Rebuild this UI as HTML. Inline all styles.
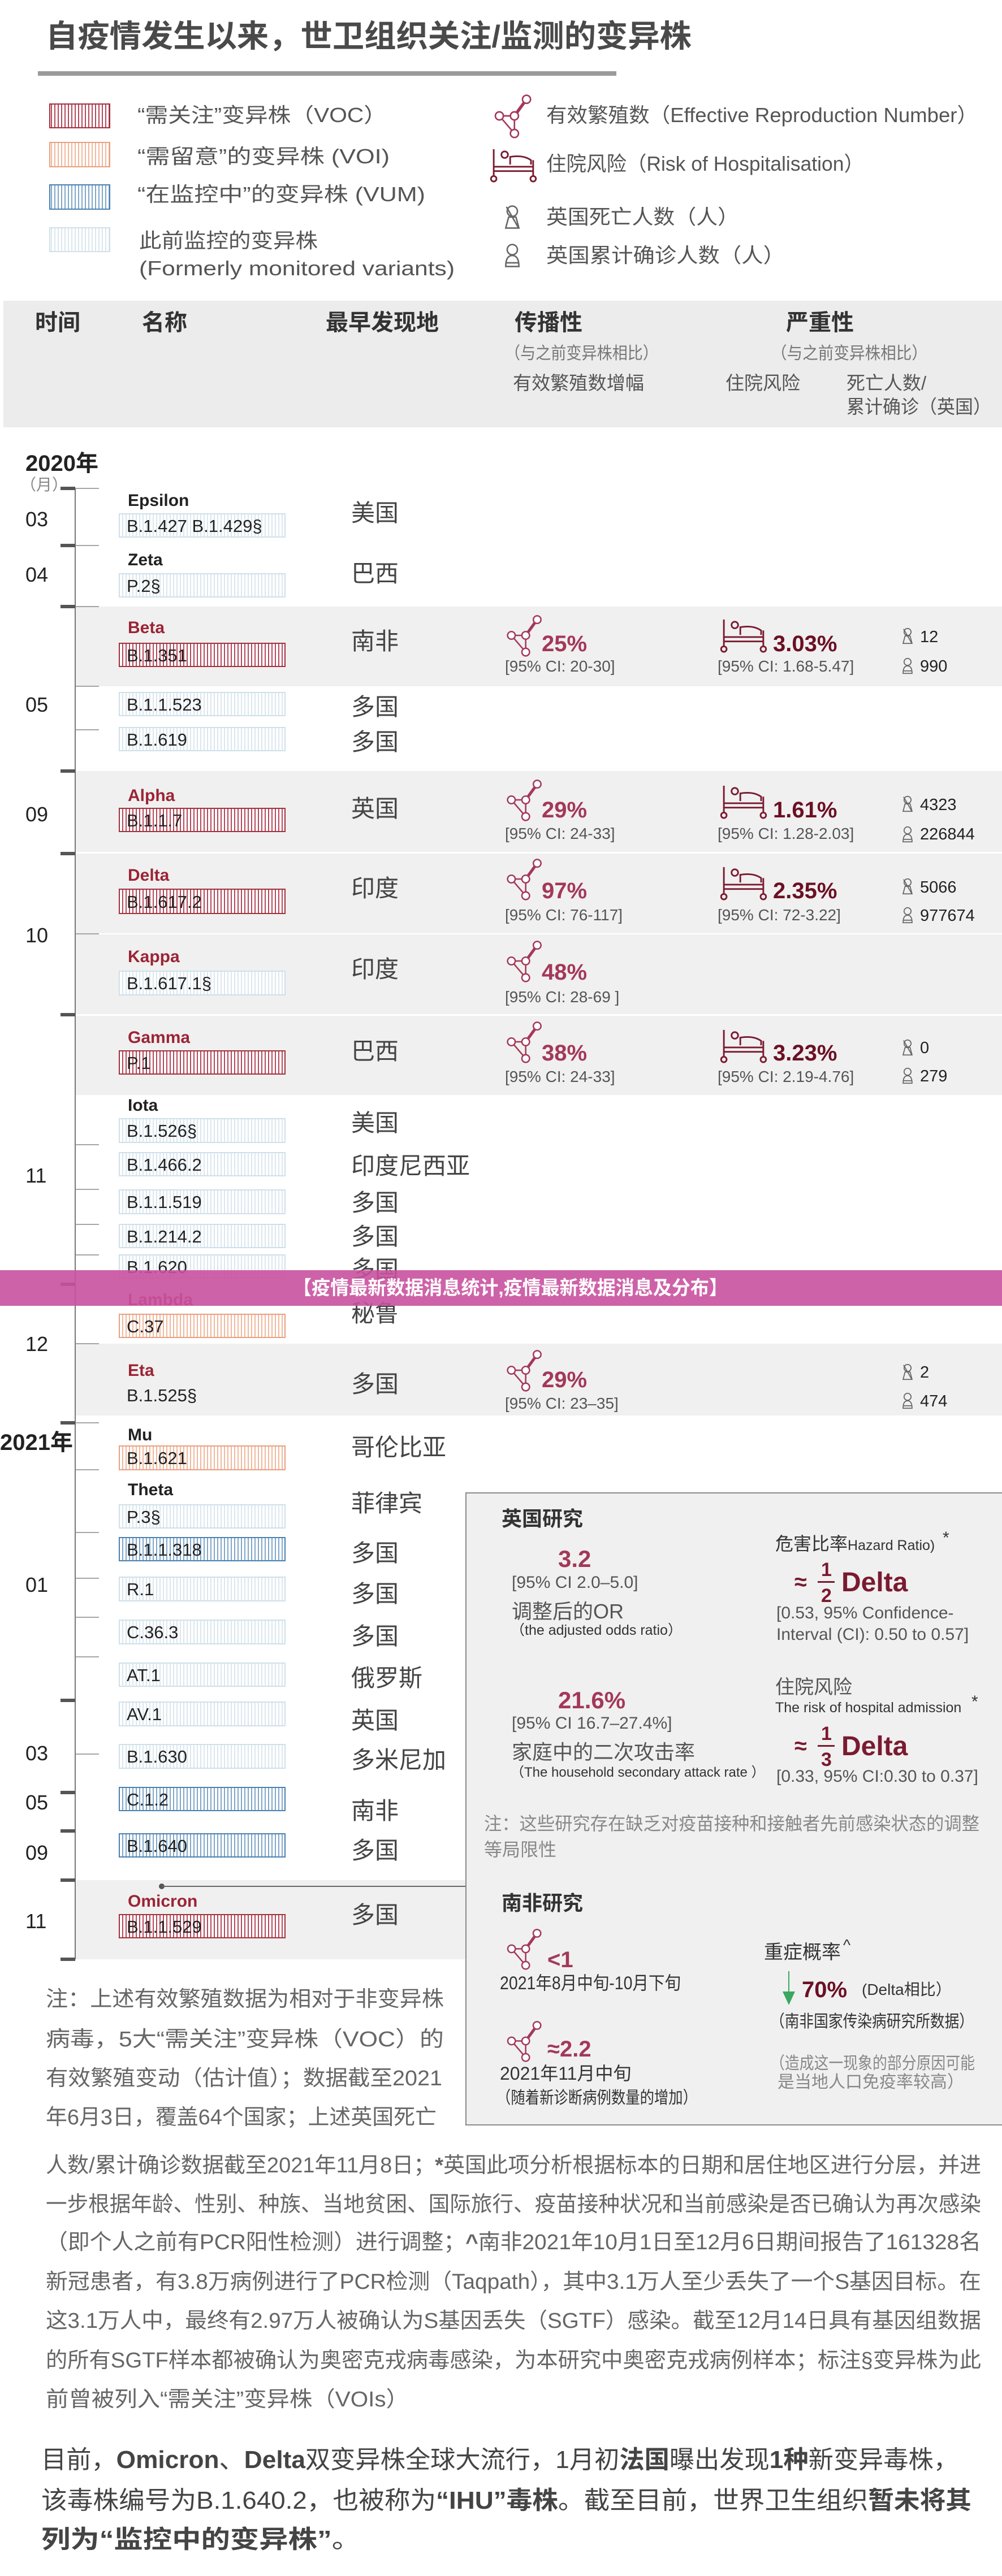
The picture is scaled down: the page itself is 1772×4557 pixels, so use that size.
<!DOCTYPE html>
<html><head><meta charset="utf-8"><style>
html,body{margin:0;padding:0;background:#fff;}
svg{display:block;}
text{font-family:"Liberation Sans","Noto Sans CJK SC",sans-serif;}
.b{font-weight:bold;}
</style></head><body>
<svg width="1772" height="4557" viewBox="0 0 1772 4557" xmlns="http://www.w3.org/2000/svg">
<defs>
<pattern id="pVOC" width="6" height="10" patternUnits="userSpaceOnUse"><rect width="6" height="10" fill="#fff"/><rect x="0" width="2" height="10" fill="#b4485a"/></pattern>
<pattern id="pVOI" width="6" height="10" patternUnits="userSpaceOnUse"><rect width="6" height="10" fill="#fff"/><rect x="0" width="2" height="10" fill="#f0b89c"/></pattern>
<pattern id="pVUM" width="6" height="10" patternUnits="userSpaceOnUse"><rect width="6" height="10" fill="#fff"/><rect x="0" width="2" height="10" fill="#7fa7c9"/></pattern>
<pattern id="pFM" width="6" height="10" patternUnits="userSpaceOnUse"><rect width="6" height="10" fill="#fff"/><rect x="0" width="2" height="10" fill="#dbe7ee"/></pattern>
<symbol id="ri" viewBox="0 0 80 90"><g fill="none" stroke="#a3385a" stroke-width="3"><line x1="42" y1="45" x2="66" y2="12" stroke-width="6"/><line x1="12" y1="45" x2="42" y2="45"/><line x1="12" y1="45" x2="42" y2="80"/><line x1="42" y1="45" x2="42" y2="80"/><circle cx="66" cy="12" r="8" fill="#fff"/><circle cx="12" cy="45" r="8" fill="#fff"/><circle cx="42" cy="45" r="8" fill="#fff"/><circle cx="42" cy="80" r="8" fill="#fff"/></g></symbol>
<symbol id="hi" viewBox="0 0 84 64"><g fill="none" stroke="#7a1a30" stroke-width="3"><line x1="6" y1="2" x2="6" y2="52"/><line x1="78" y1="22" x2="78" y2="52"/><line x1="6" y1="34" x2="78" y2="34"/><line x1="6" y1="42" x2="78" y2="42"/><circle cx="26" cy="12" r="6"/><path d="M36 30 L36 16 Q60 12 74 22 L74 30"/><circle cx="6" cy="56" r="5"/><circle cx="78" cy="56" r="5"/></g></symbol>
<symbol id="di" viewBox="0 0 24 34"><g fill="none" stroke="#666" stroke-width="2"><circle cx="12" cy="9" r="7"/><path d="M3 32 L7 17 L17 17 L21 32 Z"/><line x1="4" y1="3" x2="20" y2="31"/></g></symbol>
<symbol id="ci" viewBox="0 0 24 34"><g fill="none" stroke="#666" stroke-width="2"><circle cx="12" cy="9" r="7"/><path d="M3 32 Q3 17 12 17 Q21 17 21 32 Z"/><line x1="3" y1="27" x2="21" y2="27"/></g></symbol>
</defs>

<!-- Title -->
<text x="81" y="83" font-size="55" class="b" fill="#4a4a4a" textLength="1142" lengthAdjust="spacingAndGlyphs">自疫情发生以来，世卫组织关注/监测的变异株</text>
<rect x="67" y="126" width="1023" height="8" fill="#9a9a9a"/>

<!-- Legend -->
<rect x="88" y="184" width="106" height="42" fill="url(#pVOC)" stroke="#a0303c" stroke-width="2"/>
<rect x="88" y="252" width="106" height="43" fill="url(#pVOI)" stroke="#e8a080" stroke-width="2"/>
<rect x="88" y="327" width="106" height="43" fill="url(#pVUM)" stroke="#4a80b0" stroke-width="2"/>
<rect x="88" y="403" width="106" height="42" fill="url(#pFM)" stroke="#d0e0ea" stroke-width="2"/>
<g font-size="36" fill="#555">
<text x="243" y="216" textLength="441" lengthAdjust="spacingAndGlyphs">“需关注”变异株（VOC）</text>
<text x="243" y="289" textLength="446" lengthAdjust="spacingAndGlyphs">“需留意”的变异株 (VOI)</text>
<text x="243" y="356" textLength="509" lengthAdjust="spacingAndGlyphs">“在监控中”的变异株 (VUM)</text>
<text x="246" y="438" textLength="316" lengthAdjust="spacingAndGlyphs">此前监控的变异株</text>
<text x="246" y="487" textLength="558" lengthAdjust="spacingAndGlyphs">(Formerly monitored variants)</text>
<text x="966" y="216" textLength="763" lengthAdjust="spacingAndGlyphs">有效繁殖数（Effective Reproduction Number）</text>
<text x="966" y="302" textLength="562" lengthAdjust="spacingAndGlyphs">住院风险（Risk of Hospitalisation）</text>
<text x="966" y="396" textLength="341" lengthAdjust="spacingAndGlyphs">英国死亡人数（人）</text>
<text x="966" y="464" textLength="422" lengthAdjust="spacingAndGlyphs">英国累计确诊人数（人）</text>
</g>
<use href="#ri" x="868" y="165" width="80" height="80"/>
<use href="#hi" x="863" y="262" width="90" height="62"/>
<use href="#di" x="888" y="362" width="36" height="44"/>
<use href="#ci" x="888" y="430" width="36" height="44"/>

<!-- Header band -->
<rect x="6" y="532" width="1766" height="224" fill="#ececec"/>
<g font-size="40" class="b" fill="#333">
<text x="62" y="584">时间</text>
<text x="251" y="584">名称</text>
<text x="576" y="584">最早发现地</text>
<text x="910" y="584">传播性</text>
<text x="1390" y="584">严重性</text>
</g>
<g font-size="30" fill="#777">
<text x="893" y="635" textLength="271" lengthAdjust="spacingAndGlyphs">（与之前变异株相比）</text>
<text x="1364" y="635" textLength="276" lengthAdjust="spacingAndGlyphs">（与之前变异株相比）</text>
</g>
<g font-size="33" fill="#555">
<text x="907" y="689" textLength="232" lengthAdjust="spacingAndGlyphs">有效繁殖数增幅</text>
<text x="1283" y="689">住院风险</text>
<text x="1497" y="689">死亡人数/</text>
<text x="1497" y="731" textLength="256" lengthAdjust="spacingAndGlyphs">累计确诊（英国）</text>
</g>

<!-- Bands -->
<g fill="#f0f0f0">
<rect x="133" y="1073" width="1639" height="141"/>
<rect x="133" y="1364" width="1639" height="143"/>
<rect x="133" y="1510" width="1639" height="141"/>
<rect x="133" y="1653" width="1639" height="141"/>
<rect x="133" y="1797" width="1639" height="140"/>
<rect x="133" y="2377" width="1639" height="127"/>
<rect x="133" y="3326" width="691" height="140"/>
</g>

<!-- Timeline -->
<text x="45" y="833" font-size="40" class="b" fill="#222">2020年</text>
<text x="36" y="867" font-size="28" fill="#888">（月）</text>
<line x1="133" y1="864" x2="133" y2="3466" stroke="#777" stroke-width="2"/>
<g fill="#555">
<rect x="107" y="861" width="26" height="6"/><rect x="107" y="962" width="26" height="6"/><rect x="107" y="1070" width="26" height="6"/><rect x="107" y="1361" width="26" height="6"/><rect x="107" y="1507" width="26" height="6"/><rect x="107" y="1792" width="26" height="6"/><rect x="107" y="2269" width="26" height="6"/><rect x="107" y="2514" width="26" height="6"/><rect x="107" y="3005" width="26" height="6"/><rect x="107" y="3168" width="26" height="6"/><rect x="107" y="3236" width="26" height="6"/><rect x="107" y="3323" width="26" height="6"/><rect x="107" y="3463" width="26" height="6"/>
</g>
<g stroke="#888" stroke-width="1.5">
<line x1="133" y1="864" x2="175" y2="864"/><line x1="133" y1="965" x2="175" y2="965"/><line x1="133" y1="1073" x2="175" y2="1073"/><line x1="133" y1="1214" x2="175" y2="1214"/><line x1="133" y1="1291" x2="175" y2="1291"/><line x1="133" y1="1652" x2="175" y2="1652"/><line x1="133" y1="2025" x2="175" y2="2025"/><line x1="133" y1="2104" x2="175" y2="2104"/><line x1="133" y1="2166" x2="175" y2="2166"/><line x1="133" y1="2220" x2="175" y2="2220"/><line x1="133" y1="2377" x2="175" y2="2377"/><line x1="133" y1="2517" x2="175" y2="2517"/><line x1="133" y1="2600" x2="175" y2="2600"/><line x1="133" y1="2711" x2="175" y2="2711"/><line x1="133" y1="2792" x2="175" y2="2792"/><line x1="133" y1="2861" x2="175" y2="2861"/><line x1="133" y1="2931" x2="175" y2="2931"/><line x1="133" y1="3103" x2="175" y2="3103"/>
</g>
<g font-size="36" fill="#222">
<text x="45" y="931">03</text><text x="45" y="1029">04</text><text x="45" y="1259">05</text><text x="45" y="1453">09</text><text x="45" y="1667">10</text><text x="45" y="2092">11</text><text x="45" y="2390">12</text>
<text x="0" y="2565" font-size="40" class="b">2021年</text>
<text x="45" y="2816">01</text><text x="45" y="3114">03</text><text x="45" y="3201">05</text><text x="45" y="3290">09</text><text x="45" y="3411">11</text>
</g>

<!-- Variant names -->
<g font-size="30" class="b">
<text x="226" y="895" fill="#222">Epsilon</text>
<text x="226" y="1000" fill="#222">Zeta</text>
<text x="226" y="1120" fill="#9b2435">Beta</text>
<text x="226" y="1417" fill="#9b2435">Alpha</text>
<text x="226" y="1558" fill="#9b2435">Delta</text>
<text x="226" y="1702" fill="#9b2435">Kappa</text>
<text x="226" y="1845" fill="#9b2435">Gamma</text>
<text x="226" y="1965" fill="#222">Iota</text>
<text x="226" y="2309" fill="#8b3a3a">Lambda</text>
<text x="226" y="2434" fill="#9b2435">Eta</text>
<text x="226" y="2548" fill="#222">Mu</text>
<text x="226" y="2645" fill="#222">Theta</text>
<text x="226" y="3373" fill="#9b2435">Omicron</text>
</g>

<!-- Boxes -->
<g stroke-width="2">
<rect x="211" y="909" width="293" height="41" fill="url(#pFM)" stroke="#cfe0ea"/>
<rect x="211" y="1015" width="293" height="41" fill="url(#pFM)" stroke="#cfe0ea"/>
<rect x="211" y="1138" width="293" height="41" fill="url(#pVOC)" stroke="#a0303c"/>
<rect x="211" y="1225" width="293" height="41" fill="url(#pFM)" stroke="#cfe0ea"/>
<rect x="211" y="1287" width="293" height="41" fill="url(#pFM)" stroke="#cfe0ea"/>
<rect x="211" y="1430" width="293" height="41" fill="url(#pVOC)" stroke="#a0303c"/>
<rect x="211" y="1573" width="293" height="43" fill="url(#pVOC)" stroke="#a0303c"/>
<rect x="211" y="1718" width="293" height="42" fill="url(#pFM)" stroke="#cfe0ea"/>
<rect x="211" y="1859" width="293" height="41" fill="url(#pVOC)" stroke="#a0303c"/>
<rect x="211" y="1979" width="293" height="42" fill="url(#pFM)" stroke="#cfe0ea"/>
<rect x="211" y="2039" width="293" height="41" fill="url(#pFM)" stroke="#cfe0ea"/>
<rect x="211" y="2105" width="293" height="42" fill="url(#pFM)" stroke="#cfe0ea"/>
<rect x="211" y="2166" width="293" height="41" fill="url(#pFM)" stroke="#cfe0ea"/>
<rect x="211" y="2220" width="293" height="41" fill="url(#pFM)" stroke="#cfe0ea"/>
<rect x="211" y="2325" width="293" height="41" fill="url(#pVOI)" stroke="#e8a080"/>
<rect x="211" y="2558" width="293" height="42" fill="url(#pVOI)" stroke="#e8a080"/>
<rect x="211" y="2662" width="293" height="41" fill="url(#pFM)" stroke="#cfe0ea"/>
<rect x="211" y="2720" width="293" height="41" fill="url(#pVUM)" stroke="#4a80b0"/>
<rect x="211" y="2790" width="293" height="42" fill="url(#pFM)" stroke="#cfe0ea"/>
<rect x="211" y="2866" width="293" height="42" fill="url(#pFM)" stroke="#cfe0ea"/>
<rect x="211" y="2942" width="293" height="41" fill="url(#pFM)" stroke="#cfe0ea"/>
<rect x="211" y="3011" width="293" height="42" fill="url(#pFM)" stroke="#cfe0ea"/>
<rect x="211" y="3086" width="293" height="42" fill="url(#pFM)" stroke="#cfe0ea"/>
<rect x="211" y="3162" width="293" height="41" fill="url(#pVUM)" stroke="#4a80b0"/>
<rect x="211" y="3244" width="293" height="41" fill="url(#pVUM)" stroke="#4a80b0"/>
<rect x="211" y="3387" width="293" height="41" fill="url(#pVOC)" stroke="#a0303c"/>
</g>
<g font-size="31" fill="#222">
<text x="224" y="941">B.1.427 B.1.429§</text>
<text x="224" y="1047">P.2§</text>
<text x="224" y="1170">B.1.351</text>
<text x="224" y="1257">B.1.1.523</text>
<text x="224" y="1319">B.1.619</text>
<text x="224" y="1462">B.1.1.7</text>
<text x="224" y="1606">B.1.617.2</text>
<text x="224" y="1750">B.1.617.1§</text>
<text x="224" y="1891">P.1</text>
<text x="224" y="2011">B.1.526§</text>
<text x="224" y="2071">B.1.466.2</text>
<text x="224" y="2137">B.1.1.519</text>
<text x="224" y="2198">B.1.214.2</text>
<text x="224" y="2252">B.1.620</text>
<text x="224" y="2357">C.37</text>
<text x="224" y="2479">B.1.525§</text>
<text x="224" y="2590">B.1.621</text>
<text x="224" y="2694">P.3§</text>
<text x="224" y="2752">B.1.1.318</text>
<text x="224" y="2822">R.1</text>
<text x="224" y="2898">C.36.3</text>
<text x="224" y="2974">AT.1</text>
<text x="224" y="3043">AV.1</text>
<text x="224" y="3118">B.1.630</text>
<text x="224" y="3194">C.1.2</text>
<text x="224" y="3276">B.1.640</text>
<text x="224" y="3419">B.1.1.529</text>
</g>

<!-- Countries -->
<g font-size="42" fill="#444">
<text x="621" y="922">美国</text><text x="621" y="1029">巴西</text><text x="621" y="1149">南非</text>
<text x="621" y="1265">多国</text><text x="621" y="1327">多国</text><text x="621" y="1445">英国</text>
<text x="621" y="1586">印度</text><text x="621" y="1729">印度</text><text x="621" y="1874">巴西</text>
<text x="621" y="2001">美国</text><text x="621" y="2077">印度尼西亚</text><text x="621" y="2142">多国</text>
<text x="621" y="2202">多国</text><text x="621" y="2260">多国</text><text x="621" y="2338">秘鲁</text>
<text x="621" y="2463">多国</text><text x="621" y="2575">哥伦比亚</text><text x="621" y="2674">菲律宾</text>
<text x="621" y="2762">多国</text><text x="621" y="2834">多国</text><text x="621" y="2909">多国</text>
<text x="621" y="2983">俄罗斯</text><text x="621" y="3058">英国</text><text x="621" y="3128">多米尼加</text>
<text x="621" y="3218">南非</text><text x="621" y="3288">多国</text><text x="621" y="3402">多国</text>
</g>

<!-- Values -->
<g>
<use href="#ri" x="890" y="1086" width="76" height="76"/><text x="958" y="1152" font-size="40" class="b" fill="#a3385a">25%</text><text x="893" y="1188" font-size="28" fill="#555">[95% CI:  20-30]</text>
<use href="#hi" x="1272" y="1094" width="86" height="62"/><text x="1367" y="1152" font-size="40" class="b" fill="#6b1024">3.03%</text><text x="1269" y="1188" font-size="28" fill="#555">[95% CI:  1.68-5.47]</text>
<use href="#di" x="1593" y="1110" width="24" height="30"/><text x="1627" y="1136" font-size="29" fill="#222">12</text>
<use href="#ci" x="1593" y="1163" width="24" height="30"/><text x="1627" y="1188" font-size="29" fill="#222">990</text>

<use href="#ri" x="890" y="1377" width="76" height="76"/><text x="958" y="1446" font-size="40" class="b" fill="#a3385a">29%</text><text x="893" y="1484" font-size="28" fill="#555">[95%  CI:  24-33]</text>
<use href="#hi" x="1272" y="1388" width="86" height="62"/><text x="1367" y="1446" font-size="40" class="b" fill="#6b1024">1.61%</text><text x="1269" y="1484" font-size="28" fill="#555">[95%  CI:  1.28-2.03]</text>
<use href="#di" x="1593" y="1407" width="24" height="30"/><text x="1627" y="1433" font-size="29" fill="#222">4323</text>
<use href="#ci" x="1593" y="1461" width="24" height="30"/><text x="1627" y="1485" font-size="29" fill="#222">226844</text>

<use href="#ri" x="890" y="1517" width="76" height="76"/><text x="958" y="1589" font-size="40" class="b" fill="#a3385a">97%</text><text x="893" y="1628" font-size="28" fill="#555">[95% CI:  76-117]</text>
<use href="#hi" x="1272" y="1532" width="86" height="62"/><text x="1367" y="1589" font-size="40" class="b" fill="#6b1024">2.35%</text><text x="1269" y="1628" font-size="28" fill="#555">[95% CI:  72-3.22]</text>
<use href="#di" x="1593" y="1553" width="24" height="30"/><text x="1627" y="1579" font-size="29" fill="#222">5066</text>
<use href="#ci" x="1593" y="1604" width="24" height="30"/><text x="1627" y="1629" font-size="29" fill="#222">977674</text>

<use href="#ri" x="890" y="1662" width="76" height="76"/><text x="958" y="1733" font-size="40" class="b" fill="#a3385a">48%</text><text x="893" y="1773" font-size="28" fill="#555">[95% CI:  28-69 ]</text>

<use href="#ri" x="890" y="1805" width="76" height="76"/><text x="958" y="1876" font-size="40" class="b" fill="#a3385a">38%</text><text x="893" y="1914" font-size="28" fill="#555">[95%  CI:  24-33]</text>
<use href="#hi" x="1272" y="1820" width="86" height="62"/><text x="1367" y="1876" font-size="40" class="b" fill="#6b1024">3.23%</text><text x="1269" y="1914" font-size="28" fill="#555">[95%  CI:  2.19-4.76]</text>
<use href="#di" x="1593" y="1838" width="24" height="30"/><text x="1627" y="1863" font-size="29" fill="#222">0</text>
<use href="#ci" x="1593" y="1888" width="24" height="30"/><text x="1627" y="1913" font-size="29" fill="#222">279</text>

<use href="#ri" x="890" y="2386" width="76" height="76"/><text x="958" y="2454" font-size="40" class="b" fill="#a3385a">29%</text><text x="893" y="2492" font-size="28" fill="#555">[95% CI: 23–35]</text>
<use href="#di" x="1593" y="2412" width="24" height="30"/><text x="1627" y="2437" font-size="29" fill="#222">2</text>
<use href="#ci" x="1593" y="2463" width="24" height="30"/><text x="1627" y="2488" font-size="29" fill="#222">474</text>
</g>

<!-- Omicron connector -->
<circle cx="286" cy="3337" r="5" fill="#555"/>
<line x1="286" y1="3337" x2="824" y2="3337" stroke="#666" stroke-width="2"/>

<!-- Right panel -->
<rect x="824" y="2641" width="960" height="1118" fill="#f0f0f0" stroke="#8a8a8a" stroke-width="2"/>
<text x="887" y="2699" font-size="36" class="b" fill="#333">英国研究</text>
<text x="987" y="2772" font-size="42" class="b" fill="#a3385a">3.2</text>
<text x="905" y="2809" font-size="30" fill="#555">[95% CI 2.0–5.0]</text>
<text x="905" y="2863" font-size="36" fill="#555">调整后的OR</text>
<text x="903" y="2892" font-size="25" fill="#333">（the adjusted odds ratio）</text>
<text x="1371" y="2742" font-size="32" fill="#333">危害比率<tspan font-size="25">Hazard Ratio)</tspan></text>
<text x="1667" y="2730" font-size="30" fill="#333">*</text>
<text x="1405" y="2812" font-size="40" class="b" fill="#7a1a30">≈</text>
<text x="1452" y="2788" font-size="34" class="b" fill="#7a1a30">1</text>
<rect x="1446" y="2797" width="30" height="3" fill="#7a1a30"/>
<text x="1452" y="2834" font-size="34" class="b" fill="#7a1a30">2</text>
<text x="1488" y="2815" font-size="48" class="b" fill="#7a1a30">Delta</text>
<text x="1373" y="2863" font-size="30" fill="#555">[0.53, 95% Confidence-</text>
<text x="1373" y="2901" font-size="30" fill="#555">Interval (CI): 0.50 to 0.57]</text>

<text x="987" y="3022" font-size="42" class="b" fill="#a3385a">21.6%</text>
<text x="905" y="3058" font-size="30" fill="#555">[95% CI 16.7–27.4%]</text>
<text x="905" y="3112" font-size="36" fill="#555">家庭中的二次攻击率</text>
<text x="903" y="3143" font-size="24" fill="#333">（The household secondary attack rate ）</text>
<text x="1371" y="2996" font-size="34" fill="#555">住院风险</text>
<text x="1371" y="3029" font-size="25" fill="#333">The risk of hospital admission</text>
<text x="1718" y="3020" font-size="30" fill="#333">*</text>
<text x="1405" y="3102" font-size="40" class="b" fill="#7a1a30">≈</text>
<text x="1452" y="3078" font-size="34" class="b" fill="#7a1a30">1</text>
<rect x="1446" y="3087" width="30" height="3" fill="#7a1a30"/>
<text x="1452" y="3124" font-size="34" class="b" fill="#7a1a30">3</text>
<text x="1488" y="3105" font-size="48" class="b" fill="#7a1a30">Delta</text>
<text x="1373" y="3152" font-size="30" fill="#555">[0.33, 95% CI:0.30 to 0.37]</text>

<text x="856" y="3237" font-size="32" fill="#888" textLength="876" lengthAdjust="spacingAndGlyphs">注：这些研究存在缺乏对疫苗接种和接触者先前感染状态的调整</text>
<text x="856" y="3283" font-size="32" fill="#888">等局限性</text>

<text x="887" y="3379" font-size="36" class="b" fill="#333">南非研究</text>
<use href="#ri" x="893" y="3410" width="70" height="75"/>
<text x="968" y="3480" font-size="40" class="b" fill="#a3385a">&lt;1</text>
<text x="884" y="3519" font-size="32" fill="#333" textLength="320" lengthAdjust="spacingAndGlyphs">2021年8月中旬-10月下旬</text>
<use href="#ri" x="893" y="3573" width="70" height="75"/>
<text x="968" y="3638" font-size="40" class="b" fill="#a3385a">≈2.2</text>
<text x="884" y="3679" font-size="32" fill="#333">2021年11月中旬</text>
<text x="878" y="3721" font-size="30" fill="#333" textLength="355" lengthAdjust="spacingAndGlyphs">（随着新诊断病例数量的增加）</text>
<text x="1351" y="3465" font-size="34" fill="#333">重症概率</text>
<text x="1491" y="3450" font-size="28" fill="#333">^</text>
<line x1="1395" y1="3487" x2="1395" y2="3525" stroke="#3aa860" stroke-width="2"/>
<path d="M1384 3523 L1406 3523 L1395 3547 Z" fill="#3aa860"/>
<text x="1418" y="3533" font-size="40" class="b" fill="#6b1024">70%</text>
<text x="1524" y="3529" font-size="28" fill="#333">(Delta相比）</text>
<text x="1362" y="3586" font-size="30" fill="#333" textLength="360" lengthAdjust="spacingAndGlyphs">（南非国家传染病研究所数据）</text>
<text x="1362" y="3660" font-size="30" fill="#888" textLength="362" lengthAdjust="spacingAndGlyphs">（造成这一现象的部分原因可能</text>
<text x="1375" y="3693" font-size="30" fill="#888">是当地人口免疫率较高）</text>

<!-- Notes -->
<g font-size="38" fill="#666">
<text x="81" y="3549" textLength="704" lengthAdjust="spacingAndGlyphs">注：上述有效繁殖数据为相对于非变异株</text>
<text x="81" y="3620" textLength="704" lengthAdjust="spacingAndGlyphs">病毒，5大“需关注”变异株（VOC）的</text>
<text x="81" y="3689" textLength="701" lengthAdjust="spacingAndGlyphs">有效繁殖变动（估计值）；数据截至2021</text>
<text x="81" y="3758" textLength="691" lengthAdjust="spacingAndGlyphs">年6月3日，覆盖64个国家；上述英国死亡</text>
<text x="81" y="3843" textLength="1654" lengthAdjust="spacingAndGlyphs">人数/累计确诊数据截至2021年11月8日；<tspan class="b">*</tspan>英国此项分析根据标本的日期和居住地区进行分层，并进</text>
<text x="81" y="3912" textLength="1654" lengthAdjust="spacingAndGlyphs">一步根据年龄、性别、种族、当地贫困、国际旅行、疫苗接种状况和当前感染是否已确认为再次感染</text>
<text x="81" y="3979" textLength="1654" lengthAdjust="spacingAndGlyphs">（即个人之前有PCR阳性检测）进行调整；<tspan class="b">^</tspan>南非2021年10月1日至12月6日期间报告了161328名</text>
<text x="81" y="4049" textLength="1654" lengthAdjust="spacingAndGlyphs">新冠患者，有3.8万病例进行了PCR检测（Taqpath），其中3.1万人至少丢失了一个S基因目标。在</text>
<text x="81" y="4118" textLength="1654" lengthAdjust="spacingAndGlyphs">这3.1万人中，最终有2.97万人被确认为S基因丢失（SGTF）感染。截至12月14日具有基因组数据</text>
<text x="81" y="4188" textLength="1654" lengthAdjust="spacingAndGlyphs">的所有SGTF样本都被确认为奥密克戎病毒感染，为本研究中奥密克戎病例样本；标注§变异株为此</text>
<text x="81" y="4257" textLength="642" lengthAdjust="spacingAndGlyphs">前曾被列入“需关注”变异株（VOIs）</text>
</g>

<g font-size="44" fill="#444">
<text x="73" y="4366" textLength="1622" lengthAdjust="spacingAndGlyphs">目前，<tspan class="b">Omicron</tspan>、<tspan class="b">Delta</tspan>双变异株全球大流行，1月初<tspan class="b">法国</tspan>曝出发现<tspan class="b">1种</tspan>新变异毒株，</text>
<text x="73" y="4438" textLength="1645" lengthAdjust="spacingAndGlyphs">该毒株编号为B.1.640.2，也被称为<tspan class="b">“IHU”毒株</tspan>。截至目前，世界卫生组织<tspan class="b">暂未将其</tspan></text>
<text x="73" y="4507" textLength="565" lengthAdjust="spacingAndGlyphs"><tspan class="b">列为“监控中的变异株”</tspan>。</text>
</g>

<!-- Banner -->
<rect x="0" y="2247" width="1772" height="63" fill="#c9519f" fill-opacity="0.9"/>
<text x="518" y="2290" font-size="34" class="b" fill="#fff" textLength="769" lengthAdjust="spacingAndGlyphs">【疫情最新数据消息统计,疫情最新数据消息及分布】</text>
</svg>
</body></html>
